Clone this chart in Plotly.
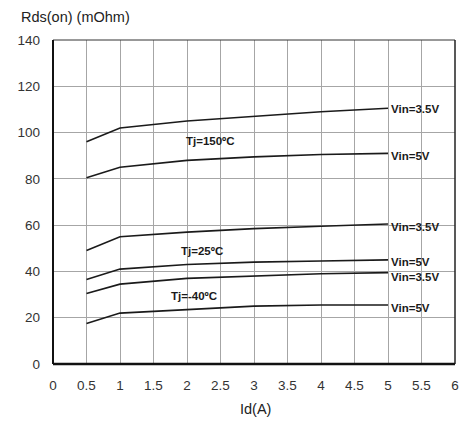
import plotly.graph_objects as go

# Data
id_a = [0.5, 1, 2, 3, 4, 5]
tj150_vin35 = [96, 102, 105, 107, 109, 110.5]
tj150_vin5 = [80.5, 85, 88, 89.5, 90.5, 91]
tj25_vin35 = [49, 55, 57, 58.5, 59.5, 60.5]
tj25_vin5 = [36.5, 41, 43, 44, 44.5, 45]
tjm40_vin35 = [30.5, 34.5, 37, 38, 39, 39.5]
tjm40_vin5 = [17.5, 22, 23.5, 25, 25.5, 25.5]

series = [tj150_vin35, tj150_vin5, tj25_vin35, tj25_vin5, tjm40_vin35, tjm40_vin5]
vin_labels = ["Vin=3.5V", "Vin=5V", "Vin=3.5V", "Vin=5V", "Vin=3.5V", "Vin=5V"]
vin_label_y = [110.3, 89.9, 59, 44, 37.5, 24.3]
tj_labels = ["Tj=150ºC", "Tj=25ºC", "Tj=-40ºC"]
tj_label_x = [2.35, 2.22, 2.11]
tj_label_y = [96.4, 49, 29.5]

x_ticks = [0, 0.5, 1, 1.5, 2, 2.5, 3, 3.5, 4, 4.5, 5, 5.5, 6]
y_ticks = [0, 20, 40, 60, 80, 100, 120, 140]

FONT = "Liberation Sans, Arial, sans-serif"

fig = go.Figure()
for s in series:
    fig.add_trace(go.Scatter(x=id_a, y=s, mode="lines",
                             line=dict(color="#1a1a1a", width=1.6),
                             showlegend=False, hoverinfo="skip"))

font_ann = dict(family=FONT, size=11.5, color="#1a1a1a")
annotations = []
for lab, yv in zip(vin_labels, vin_label_y):
    annotations.append(dict(x=id_a[-1], y=yv, xref="x", yref="y", text="<b>%s</b>" % lab,
                            showarrow=False, xanchor="left", yanchor="middle", xshift=1,
                            font=font_ann))
for lab, xv, yv in zip(tj_labels, tj_label_x, tj_label_y):
    annotations.append(dict(x=xv, y=yv, xref="x", yref="y", text="<b>%s</b>" % lab,
                            showarrow=False, xanchor="center", yanchor="middle",
                            font=font_ann))

# page body has an 8px margin, so the figure is sized/offset to land at the reference spot
fig_w, fig_h = 460, 414
m_l, m_t, m_r, m_b = 42, 32, 9, 58
plot_w = fig_w - m_l - m_r
plot_h = fig_h - m_t - m_b
annotations.append(dict(x=(15 - 50) / plot_w, y=1 + (40 - 17) / plot_h, xref="paper", yref="paper",
                        text="Rds(on) (mOhm)", showarrow=False, xanchor="left", yanchor="middle",
                        font=dict(family=FONT, size=14.5, color="#222")))
annotations.append(dict(x=(256 - 50) / plot_w, y=-(409 - 364) / plot_h, xref="paper", yref="paper",
                        text="Id(A)", showarrow=False, xanchor="center", yanchor="middle",
                        font=dict(family=FONT, size=14.5, color="#222")))

# frame: top/right thin, left/bottom thick
shapes = [
    dict(type="line", xref="paper", yref="paper", x0=0, x1=1, y0=1, y1=1,
         line=dict(color="#333", width=1)),
    dict(type="line", xref="paper", yref="paper", x0=1, x1=1, y0=0, y1=1,
         line=dict(color="#222", width=1.5)),
    dict(type="line", xref="paper", yref="paper", x0=0, x1=0, y0=0, y1=1,
         line=dict(color="#111", width=2)),
    dict(type="line", xref="paper", yref="paper", x0=0, x1=1, y0=0, y1=0,
         line=dict(color="#111", width=2.5)),
]

fig.update_layout(
    width=fig_w, height=fig_h,
    margin=dict(l=m_l, r=m_r, t=m_t, b=m_b),
    paper_bgcolor="white", plot_bgcolor="white",
    font=dict(family=FONT, size=13.5, color="#333"),
    annotations=annotations,
    shapes=shapes,
    xaxis=dict(range=[0, 6], tickvals=x_ticks, ticktext=[("%g" % v) for v in x_ticks],
               showgrid=True, gridcolor="#a6a6a6", gridwidth=1, zeroline=False,
               showline=False, ticks="", ticklabelstandoff=11, fixedrange=True),
    yaxis=dict(range=[0, 140], tickvals=y_ticks, ticktext=[str(v) for v in y_ticks],
               showgrid=True, gridcolor="#a6a6a6", gridwidth=1, zeroline=False,
               showline=False, ticks="", ticklabelstandoff=12, fixedrange=True),
)

fig.write_html("out.html")
